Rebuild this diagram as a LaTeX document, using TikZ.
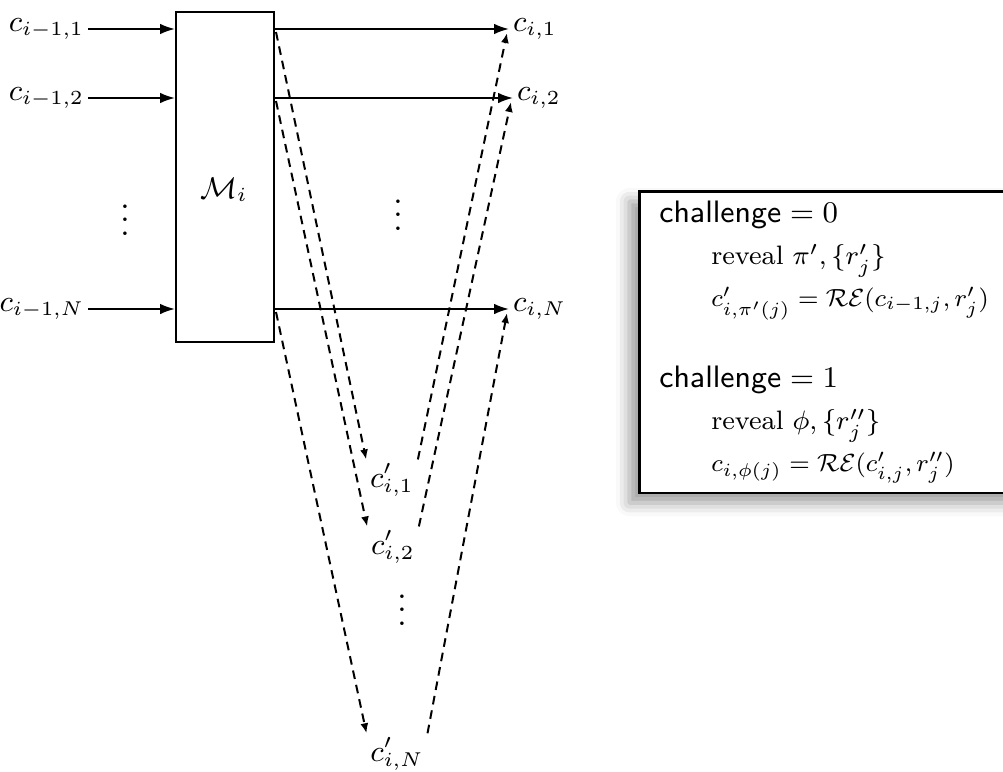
\documentclass[tikz,border=0pt]{standalone}
\usepackage{amsmath,amssymb}
\usepackage{graphicx}
\usepackage{xcolor}
\usepackage{tikz}
\usetikzlibrary{arrows.meta,positioning,calc,shadows.blur}
\newcommand{\chal}[1]{{\fontsize{9.3}{12.5}\selectfont\textsf{challenge} $=#1$}}
\newcommand{\rel}[1]{\scalebox{0.93}{$#1$}}
\tikzset{
  lbl/.style={inner sep=1pt,font=\fontsize{8.6}{10}\selectfont},
  mixer/.style={rectangle,draw,semithick,minimum width=29.4pt,minimum height=99pt,inner sep=0pt},
  panel/.style={rectangle,draw,thick,fill=white,align=left,text width=108pt,
    inner xsep=6pt,inner ysep=3pt,font=\fontsize{8}{12.5}\selectfont,
    blur shadow={shadow xshift=-3pt,shadow yshift=-3pt,shadow blur radius=4pt}},
  arr/.style={-{Latex[length=4.5pt,width=3.2pt]},semithick},
  darr/.style={-{Latex[length=3pt,width=2.4pt]},semithick,dash pattern=on 2.6pt off 1.8pt}
}
\begin{document}
\begin{tikzpicture}[x=0.3pt,y=-0.3pt]
\useasboundingbox (0,0) rectangle (1003,771);
% mixing box
\node[mixer] (M) at (225,177) {};
\node[font=\fontsize{9}{10}\selectfont] (Mlab) at (224,190) {$\mathcal{M}_i$};
% inputs and outputs
\node[lbl,anchor=east] (in1) at (88,29) {$c_{i-1,1}$};
\node[lbl,anchor=east] (in2) at (88,98) {$c_{i-1,2}$};
\node[lbl,anchor=east] (inN) at (88,309) {$c_{i-1,N}$};
\node[lbl,anchor=west] (out1) at (509,29) {$c_{i,1}$};
\node[lbl,anchor=west] (out2) at (513,98) {$c_{i,2}$};
\node[lbl,anchor=west] (outN) at (509,309) {$c_{i,N}$};
\node[lbl] (m1) at (392,480) {$c'_{i,1}$};
\node[lbl] (m2) at (393,547) {$c'_{i,2}$};
\node[lbl] (mN) at (397,754) {$c'_{i,N}$};
\node (vd1) at (125,210) {$\vdots$};
\node (vd2) at (398,205) {$\vdots$};
\node (vd3) at (402,600) {$\vdots$};
\foreach \k in {1,2,N} {
  \draw[arr] (in\k.east) -- (in\k.east -| M.west);
  \draw[arr] (in\k.east -| M.east) -- (out\k.west);
  \draw[darr] ($(in\k.east -| M.east)+(1,3)$) -- (m\k.north west);
  \draw[darr] (m\k.north east) -- ($(out\k.west)+(-2,4)$);
}
% challenge panel
\node[panel,anchor=north west] (chal) at (638,190) {%
  \chal{0}\\
  \hspace*{15.6pt}reveal $\pi',\{r'_j\}$\\
  \hspace*{15.6pt}\rel{c'_{i,\pi'(j)}=\mathcal{RE}(c_{i-1,j},r'_j)}\\[12pt]
  \chal{1}\\
  \hspace*{15.6pt}reveal $\phi,\{r''_j\}$\\
  \hspace*{15.6pt}\rel{c_{i,\phi(j)}=\mathcal{RE}(c'_{i,j},r''_j)}};
\end{tikzpicture}
\end{document}
